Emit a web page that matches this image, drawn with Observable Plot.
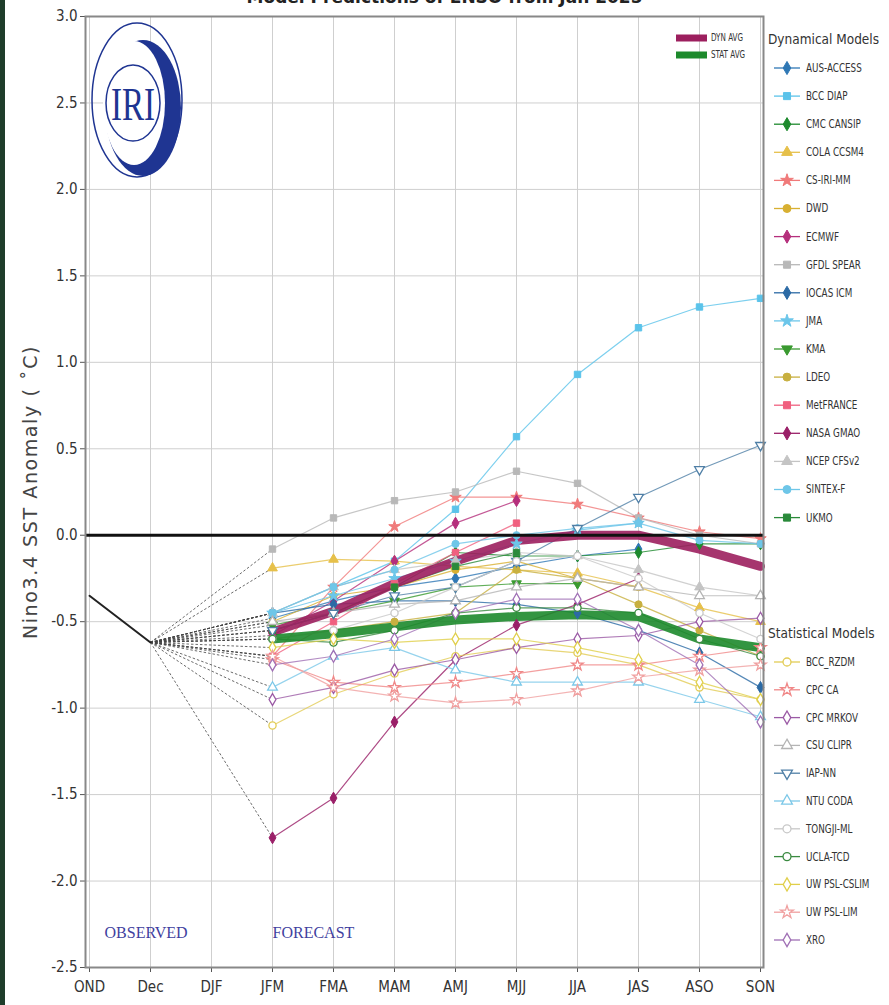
<!DOCTYPE html>
<html>
<head>
<meta charset="utf-8">
<script src="https://cdn.jsdelivr.net/npm/d3@7"></script>
<script src="https://cdn.jsdelivr.net/npm/@observablehq/plot@0.6"></script>
<style>
  html, body { margin: 0; padding: 0; background: #fff; }
  #wrap { position: relative; width: 889px; height: 1005px; overflow: hidden; background: #fff; }
  #strip { position: absolute; left: 0; top: 0; width: 5px; height: 1005px; background: #1f3d2b; z-index: 5; }
  #title { position: absolute; left: 0; width: 889px; top: -13px; text-align: center;
           font: bold 17px "DejaVu Sans", sans-serif; color: #222; z-index: 4; }
  #overlay { position: absolute; left: 0; top: 0; pointer-events: none; z-index: 3; }
  #chart { position: absolute; left: 0; top: 0; }
</style>
</head>
<body>
<div id="wrap">
  <div id="strip"></div>
  <div id="title">Model Predictions of ENSO from Jan 2025</div>
  <div id="chart"></div>
  <svg id="overlay" width="889" height="1005"></svg>
</div>
<script>
// ---------- data ----------
const seasons = ["OND","Dec","DJF","JFM","FMA","MAM","AMJ","MJJ","JJA","JAS","ASO","SON"];
const forecastSeasons = ["JFM","FMA","MAM","AMJ","MJJ","JJA","JAS","ASO","SON"];
const observedSeasons = ["OND","Dec"];
const observedValues = [-0.35, -0.62];
const yTicks = [-2.5,-2.0,-1.5,-1.0,-0.5,0.0,0.5,1.0,1.5,2.0,2.5,3.0];

const dynNames = ["AUS-ACCESS","BCC DIAP","CMC CANSIP","COLA CCSM4","CS-IRI-MM","DWD","ECMWF","GFDL SPEAR","IOCAS ICM","JMA","KMA","LDEO","MetFRANCE","NASA GMAO","NCEP CFSv2","SINTEX-F","UKMO"];
const ausAccess  = [-0.48,-0.38,-0.30,-0.25,-0.18,-0.12,-0.08,null,null];
const bccDiap    = [-0.45,-0.30,-0.15, 0.15, 0.57, 0.93, 1.20, 1.32, 1.37];
const cmcCansip  = [-0.55,-0.45,-0.30,-0.10,-0.12,-0.12,-0.10,-0.05,-0.05];
const colaCcsm4  = [-0.19,-0.14,-0.15,-0.18,-0.20,-0.22,-0.30,-0.42,-0.50];
const csIriMm    = [-0.70,-0.30, 0.05, 0.22, 0.22, 0.18, 0.10, 0.02,-0.02];
const dwd        = [-0.50,-0.35,-0.30,-0.20,-0.15,-0.25,-0.30,null,null];
const ecmwf      = [-0.58,-0.38,-0.15, 0.07, 0.20,null,null,null,null];
const gfdlSpear  = [-0.08, 0.10, 0.20, 0.25, 0.37, 0.30, 0.10, 0.00,-0.05];
const iocasIcm   = [-0.45,-0.40,-0.38,-0.38,-0.40,-0.45,-0.55,-0.68,-0.88];
const jma        = [-0.45,-0.35,-0.25,-0.15,-0.05, 0.03, 0.07,null,null];
const kma        = [-0.52,-0.45,-0.38,-0.30,-0.28,-0.28,null,null,null];
const ldeo       = [-0.60,-0.55,-0.50,-0.45,-0.20,-0.25,-0.40,-0.55,-0.70];
const metFrance  = [-0.70,-0.50,-0.28,-0.10, 0.07,null,null,null,null];
const nasaGmao   = [-1.75,-1.52,-1.08,-0.72,-0.52,-0.40,-0.25,null,null];
const ncepCfsv2  = [-0.45,-0.30,-0.20,-0.15,-0.10,-0.12,-0.20,-0.30,-0.35];
const sintexF    = [-0.45,-0.30,-0.20,-0.05, 0.00, 0.04, 0.07,-0.03,-0.05];
const ukmo       = [-0.55,-0.45,-0.30,-0.18,-0.10,null,null,null,null];
const dynValues = [ausAccess,bccDiap,cmcCansip,colaCcsm4,csIriMm,dwd,ecmwf,gfdlSpear,iocasIcm,jma,kma,ldeo,metFrance,nasaGmao,ncepCfsv2,sintexF,ukmo];

const statNames = ["BCC_RZDM","CPC CA","CPC MRKOV","CSU CLIPR","IAP-NN","NTU CODA","TONGJI-ML","UCLA-TCD","UW PSL-CSLIM","UW PSL-LIM","XRO"];
const bccRzdm    = [-1.10,-0.92,-0.80,-0.70,-0.65,-0.68,-0.75,-0.88,-0.95];
const cpcCa      = [-0.72,-0.85,-0.88,-0.85,-0.80,-0.75,-0.75,-0.70,-0.65];
const cpcMrkov   = [-0.95,-0.88,-0.78,-0.72,-0.65,-0.60,-0.58,-0.50,-0.48];
const csuClipr   = [-0.50,-0.45,-0.40,-0.38,-0.30,-0.25,-0.30,-0.35,-0.35];
const iapNn      = [-0.55,-0.45,-0.35,-0.30,-0.15, 0.04, 0.22, 0.38, 0.52];
const ntuCoda    = [-0.88,-0.70,-0.65,-0.78,-0.85,-0.85,-0.85,-0.95,-1.05];
const tongjiMl   = [-0.60,-0.55,-0.45,-0.30,-0.15,-0.12,-0.25,-0.45,-0.60];
const uclaTcd    = [-0.60,-0.62,-0.55,-0.45,-0.42,-0.42,-0.45,-0.60,-0.70];
const uwPslCslim = [-0.65,-0.60,-0.62,-0.60,-0.60,-0.65,-0.72,-0.85,-0.95];
const uwPslLim   = [-0.70,-0.88,-0.93,-0.97,-0.95,-0.90,-0.82,-0.78,-0.75];
const xro        = [-0.75,-0.70,-0.60,-0.45,-0.37,-0.37,-0.55,-0.75,-1.08];
const statValues = [bccRzdm,cpcCa,cpcMrkov,csuClipr,iapNn,ntuCoda,tongjiMl,uclaTcd,uwPslCslim,uwPslLim,xro];

const dynAvg  = [-0.56,-0.44,-0.28,-0.15,-0.03, 0.00, 0.00,-0.08,-0.18];
const statAvg = [-0.60,-0.57,-0.53,-0.49,-0.47,-0.46,-0.47,-0.60,-0.65];

// ---------- styles ----------
const dynColors  = ["#2f78b5","#5bc3ea","#1e8a2e","#e6c04a","#f07a7a","#d8b032","#b52f7c","#b8b8b8","#2b6aa5","#6cc6ea","#3a9a30","#c8b040","#f0607f","#9a1f68","#c4c4c4","#6ec6e8","#2a8a3a"];
const dynSymbols = ["diamond","square","diamond","triangle","star","circle","diamond","square","diamond","star","triangle-down","circle","square","diamond","triangle","circle","square"];
const statColors  = ["#e2cc55","#f08888","#9b5aa5","#b4b4b4","#4f7fa6","#7cc8e8","#c8c8c8","#3a8a40","#e0cf4a","#f0a0a0","#a070b5"];
const statSymbols = ["circle","star","diamond","triangle","triangle-down","triangle","circle","circle","diamond","star","diamond"];
const dynAvgColor = "#9c1f5e", statAvgColor = "#1d8a2c";

// ---------- build tables ----------
const models = [];
dynNames.forEach((n,i) => models.push({name:n, values:dynValues[i], color:dynColors[i], symbol:dynSymbols[i], hollow:false}));
statNames.forEach((n,i) => models.push({name:n, values:statValues[i], color:statColors[i], symbol:statSymbols[i], hollow:true}));

const rows = [];
models.forEach(m => m.values.forEach((v,j) => { if (v != null) rows.push({model:m.name, season:forecastSeasons[j], value:v, color:m.color}); }));
const links = models.map(m => ({model:m.name, from:observedValues[1], to:m.values[0]}));
const obsRows = observedSeasons.map((s,i) => ({season:s, value:observedValues[i]}));
const avgRows = (arr, name) => arr.map((v,j) => ({model:name, season:forecastSeasons[j], value:v}));

const plotSymbol = s => s === "triangle-down" ? "triangle" : s;
const symbolRotate = s => s === "triangle-down" ? 180 : 0;

const fontNarrow = '"Liberation Sans Narrow","DejaVu Sans Condensed","Liberation Sans",sans-serif';

const dotMarks = models.map(m => Plot.dot(rows.filter(d => d.model === m.name), {
  x: "season", y: "value", symbol: plotSymbol(m.symbol), rotate: symbolRotate(m.symbol), r: 3.6,
  fill: m.hollow ? "white" : m.color, stroke: m.color, strokeWidth: m.hollow ? 1.3 : 1
}));

const chart = Plot.plot({
  width: 889, height: 1005,
  marginLeft: 85, marginRight: 126, marginTop: 16, marginBottom: 38,
  style: {fontFamily: fontNarrow, fontSize: "14px", color: "#333", background: "transparent"},
  x: {type: "point", domain: seasons, padding: 0, label: null},
  y: {domain: [-2.5, 3], label: null},
  color: {type: "identity"},
  marks: [
    Plot.gridX(seasons, {stroke: "#cfcfcf", strokeOpacity: 1}),
    Plot.gridY(yTicks, {stroke: "#cfcfcf", strokeOpacity: 1}),
    Plot.axisX(seasons, {tickSize: 5, tickPadding: 9, fontSize: 15, stroke: "#555"}),
    Plot.axisY(yTicks, {tickSize: 5, tickPadding: 3, fontSize: 15, stroke: "#555", tickFormat: d => d.toFixed(1)}),
    Plot.link(links, {x1: () => "Dec", y1: "from", x2: () => "JFM", y2: "to", stroke: "#444", strokeWidth: 0.8, strokeDasharray: "2.5,2"}),
    Plot.line(rows, {x: "season", y: "value", z: "model", stroke: "color", strokeWidth: 1.2, strokeOpacity: 0.8}),
    Plot.line(avgRows(dynAvg, "DYN AVG"), {x: "season", y: "value", stroke: dynAvgColor, strokeWidth: 9, strokeOpacity: 0.9}),
    Plot.line(avgRows(statAvg, "STAT AVG"), {x: "season", y: "value", stroke: statAvgColor, strokeWidth: 9, strokeOpacity: 0.9}),
    ...dotMarks,
    Plot.ruleY([0], {stroke: "#111", strokeWidth: 3}),
    Plot.line(obsRows, {x: "season", y: "value", stroke: "#222", strokeWidth: 2}),
    Plot.text(["OBSERVED"], {x: () => "OND", y: () => -2.3, dx: 15, text: d => d, textAnchor: "start", fill: "#3f3fa0", fontSize: 16, fontFamily: "Liberation Serif, serif"}),
    Plot.text(["FORECAST"], {x: () => "JFM", y: () => -2.3, text: d => d, textAnchor: "start", fill: "#3f3fa0", fontSize: 16, fontFamily: "Liberation Serif, serif"}),
    Plot.text(["Nino3.4 SST Anomaly ( \u02DAC)"], {frameAnchor: "left", dx: -55, dy: 0, rotate: -90, text: d => d, fontSize: 19, fontFamily: "DejaVu Sans, sans-serif", fill: "#444", textAnchor: "middle"}),
    Plot.frame({stroke: "#888", strokeWidth: 2})
  ]
});
document.getElementById("chart").appendChild(chart);
d3.select(chart).selectAll("text").filter(function(){ return this.textContent.startsWith("Nino3.4"); }).style("letter-spacing", "1.6px");

// ---------- overlay: logo + legends ----------
const svg = d3.select("#overlay");
const navy = "#1f3592";
const logo = svg.append("g");
logo.append("ellipse").attr("cx",137).attr("cy",100).attr("rx",45).attr("ry",77).attr("fill","none").attr("stroke",navy).attr("stroke-width",1.5);
logo.append("ellipse").attr("cx",143).attr("cy",108).attr("rx",38).attr("ry",68).attr("fill",navy);
logo.append("ellipse").attr("cx",134).attr("cy",103).attr("rx",31).attr("ry",62).attr("fill","#fff");
logo.append("ellipse").attr("cx",133).attr("cy",103).attr("rx",27).attr("ry",38).attr("fill","none").attr("stroke",navy).attr("stroke-width",1.5);
logo.append("text").attr("x",133).attr("y",120).attr("text-anchor","middle")
  .attr("font-family","Liberation Serif, serif").attr("font-size",46).attr("fill",navy)
  .attr("transform","translate(133,120) scale(0.72,1) translate(-133,-120)").text("IRI");

const avgLeg = [{name:"DYN AVG", color:dynAvgColor, y:38},{name:"STAT AVG", color:statAvgColor, y:55}];
avgLeg.forEach(a => {
  svg.append("line").attr("x1",676).attr("x2",707).attr("y1",a.y).attr("y2",a.y).attr("stroke",a.color).attr("stroke-width",7);
  svg.append("text").attr("x",711).attr("y",a.y+3.5).attr("font-family",fontNarrow).attr("font-size",10).attr("fill","#333")
     .attr("transform",`translate(711,${a.y}) scale(0.8,1) translate(-711,${-a.y})`).text(a.name);
});

const d3sym = {diamond:d3.symbolDiamond, square:d3.symbolSquare, triangle:d3.symbolTriangle, "triangle-down":d3.symbolTriangle, circle:d3.symbolCircle, star:d3.symbolStar};
function legendGroup(title, titleY, list, startY, step) {
  svg.append("text").attr("x",768).attr("y",titleY).attr("font-family",fontNarrow).attr("font-size",13.5).attr("fill","#333").text(title);
  list.forEach((m,i) => {
    const y = startY + i*step;
    svg.append("line").attr("x1",774).attr("x2",800).attr("y1",y).attr("y2",y).attr("stroke",m.color).attr("stroke-width",1.3);
    svg.append("path").attr("d", d3.symbol().type(d3sym[m.symbol]).size(50)())
      .attr("transform",`translate(787,${y}) rotate(${symbolRotate(m.symbol)})`)
      .attr("fill", m.hollow ? "#fff" : m.color).attr("stroke", m.color).attr("stroke-width", m.hollow ? 1.3 : 1);
    svg.append("text").attr("x",806).attr("y",y+4).attr("font-family",fontNarrow).attr("font-size",11.5).attr("fill","#333")
      .attr("transform",`translate(806,${y}) scale(0.85,1) translate(-806,${-y})`).text(m.name);
  });
}
legendGroup("Dynamical Models", 44, models.filter(m => !m.hollow), 68, 28.1);
legendGroup("Statistical Models", 638, models.filter(m => m.hollow), 662, 27.8);
</script>
</body>
</html>
